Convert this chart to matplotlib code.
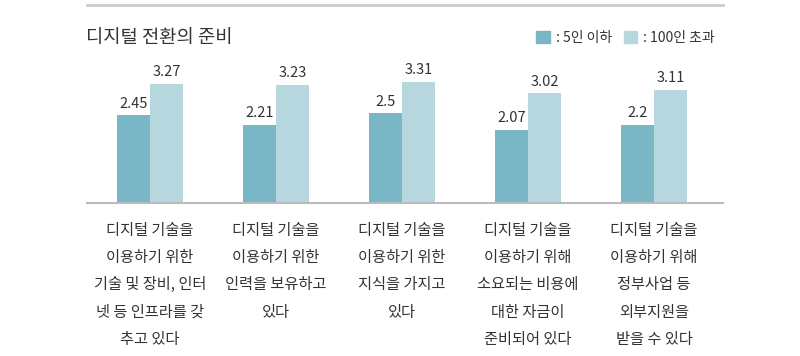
import matplotlib
matplotlib.use('Agg')
import matplotlib.pyplot as plt
import matplotlib.patches as mpatches
import matplotlib.lines as mlines
import numpy as np

plt.rcParams['font.family'] = ['Noto Sans CJK KR', 'DejaVu Sans']

# data
categories = [
    '디지털 기술을\n이용하기 위한\n기술 및 장비, 인터\n넷 등 인프라를 갖\n추고 있다',
    '디지털 기술을\n이용하기 위한\n인력을 보유하고\n있다',
    '디지털 기술을\n이용하기 위한\n지식을 가지고\n있다',
    '디지털 기술을\n이용하기 위해\n소요되는 비용에\n대한 자금이\n준비되어 있다',
    '디지털 기술을\n이용하기 위해\n정부사업 등\n외부지원을\n받을 수 있다',
]
small_firms = [2.45, 2.21, 2.5, 2.07, 2.2]
large_firms = [3.27, 3.23, 3.31, 3.02, 3.11]
small_labels = ['2.45', '2.21', '2.5', '2.07', '2.2']
large_labels = ['3.27', '3.23', '3.31', '3.02', '3.11']
series_names = [': 5인 이하', ': 100인 초과']

c_dark = '#79B6C6'
c_light = '#B6D7DE'
c_text = '#333333'

fig = plt.figure(figsize=(8, 3.56), dpi=100)
ax = fig.add_axes([87 / 800, 1 - 202.7 / 356, (723 - 87) / 800, (202.7 - 60) / 356])

x = np.arange(len(categories))
w = 0.262
b1 = ax.bar(x - w / 2, small_firms, width=w, color=c_dark, zorder=2)
b2 = ax.bar(x + w / 2, large_firms, width=w, color=c_light, zorder=2)

ax.set_xlim(-0.5, 4.548)
ax.set_ylim(0.2, 0.2 + 142.7 / 38.8)

for bars, labels in [(b1, small_labels), (b2, large_labels)]:
    for bar, lab in zip(bars, labels):
        ax.text(bar.get_x() + bar.get_width() / 2, bar.get_height() + 0.12, lab,
                ha='center', va='bottom', fontsize=10.5, color=c_text)

for s in ['top', 'right', 'left']:
    ax.spines[s].set_visible(False)
ax.spines['bottom'].set_color('#bbbbbb')
ax.spines['bottom'].set_linewidth(1.5)
ax.set_yticks([])
ax.set_xticks([])

# category labels below
for xi, cat in zip(x, categories):
    ax.text(xi, -0.136, cat, transform=ax.get_xaxis_transform(), ha='center', va='top',
            fontsize=11, color=c_text, linespacing=1.78)

# top rule and title
fig.add_artist(mlines.Line2D([87 / 800, 723 / 800], [1 - 5 / 356, 1 - 5 / 356],
                             color='#cccccc', linewidth=2))
fig.text(86 / 800, 1 - 38 / 356, '디지털 전환의 준비', fontsize=13.5, color=c_text,
         ha='left', va='center', fontweight='medium')

handles = [mpatches.Patch(color=c_dark), mpatches.Patch(color=c_light)]
fig.legend(handles, series_names, loc='center right', bbox_to_anchor=(722 / 800, 1 - 38 / 356),
           ncol=2, frameon=False, fontsize=10, handlelength=1.0, handleheight=1.0,
           handletextpad=0.43, columnspacing=0.8, labelcolor=c_text, borderpad=0)

fig.savefig('out.png', dpi=100, facecolor='white')
